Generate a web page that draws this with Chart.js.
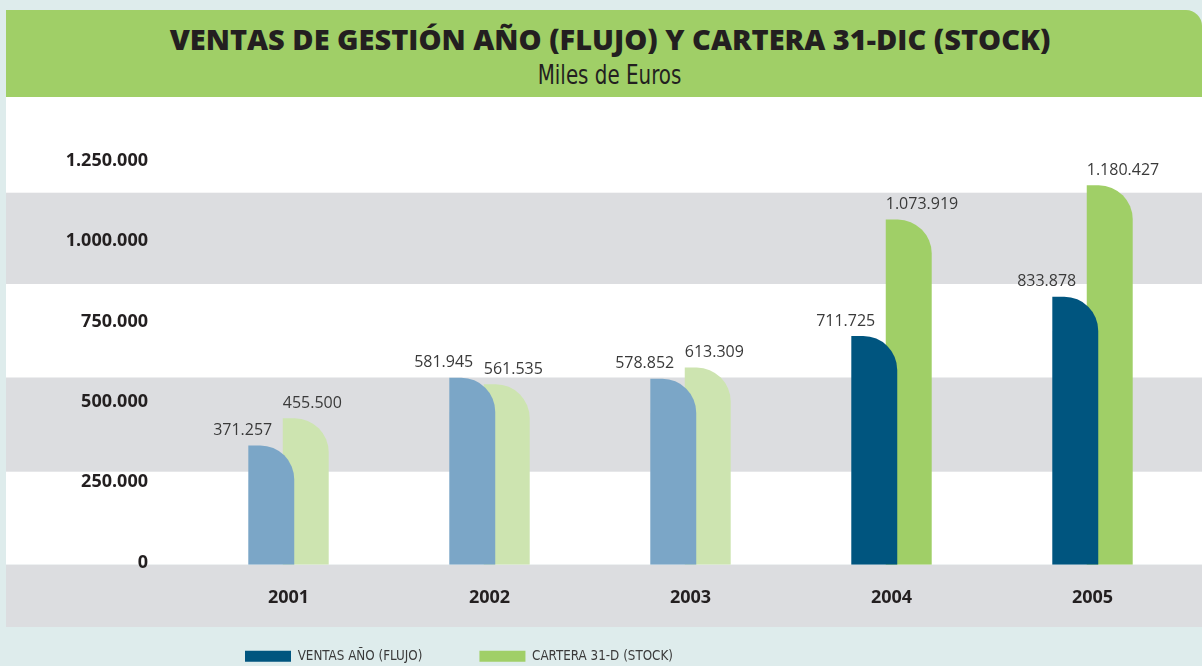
<!DOCTYPE html>
<html lang="es">

<head>
    <meta charset="UTF-8">
    <title>Ventas de gestión y cartera</title>
    <script src="https://cdn.jsdelivr.net/npm/chart.js"></script>
    <style>
        body {
            margin: 0;
            width: 1202px;
            height: 666px;
            overflow: hidden;
            position: relative;
            background: #deecec;
        }

        .titulo {
            position: absolute;
            left: 6px;
            top: 10px;
            width: 1196px;
            height: 87px;
            background: #a0cf67;
            border-top-right-radius: 16px;
            color: #231f20;
        }

        .titulo h1 {
            position: absolute;
            left: 12px;
            right: 0;
            top: 14px;
            margin: 0;
            text-align: center;
            font: 800 29px/29px 'Open Sans', sans-serif;
        }

        .titulo p {
            position: absolute;
            left: 12px;
            right: 0;
            top: 52px;
            margin: 0;
            text-align: center;
            font: 26px/26px 'DejaVu Sans Condensed', 'DejaVu Sans', sans-serif;
        }

        .titulo p span {
            display: inline-block;
            transform: scaleX(0.85);
        }

        .grafico {
            position: absolute;
            left: 6px;
            top: 97px;
            width: 1196px;
            height: 576px;
        }
    </style>
</head>

<body>
    <div class="titulo">
        <h1>VENTAS DE GESTIÓN AÑO (FLUJO) Y CARTERA 31-DIC (STOCK)</h1>
        <p><span>Miles de Euros</span></p>
    </div>
    <div class="grafico">
        <canvas id="myChart"></canvas>
    </div>

    <script>
        // datos (miles de euros)
        const anios = ['2001', '2002', '2003', '2004', '2005'];
        const ventasFlujo = [371257, 581945, 578852, 711725, 833878];
        const carteraStock = [455500, 561535, 613309, 1073919, 1180427];
        const ticksEje = [0, 250000, 500000, 750000, 1000000, 1250000];
        // los ultimos años van en color fuerte
        const resaltado = [false, false, false, true, true];

        const colVentas = ['#7ba6c7', '#00557f'];
        const colCartera = ['#cde4b0', '#a0cf67'];

        const franjas = [[95.7, 187], [280.5, 374.7]];
        const finPanel = 530;
        const radioEsquina = 34;
        const letraCondensada = "'DejaVu Sans Condensed', 'DejaVu Sans', sans-serif";

        function puntos(v) {
            return String(v).replace(/\B(?=(\d{3})+(?!\d))/g, '.');
        }

        function colorBarra(c, colores) {
            if (c.dataIndex >= 0 && !resaltado[c.dataIndex]) {
                return colores[0];
            }
            return colores[1];
        }

        // barra con la esquina de arriba a la derecha redondeada
        const Barra = Chart.registry.getElement('bar');
        Barra.prototype.draw = function (ctx) {
            const { x, y, base, width } = this.getProps(['x', 'y', 'base', 'width']);
            const izq = x - width / 2;
            const der = x + width / 2;
            const r = Math.min(radioEsquina, width, base - y);
            ctx.save();
            ctx.fillStyle = this.options.backgroundColor;
            ctx.beginPath();
            ctx.moveTo(izq, base);
            ctx.lineTo(izq, y);
            ctx.lineTo(der - r, y);
            ctx.arcTo(der, y, der, y + r, r);
            ctx.lineTo(der, base);
            ctx.closePath();
            ctx.fill();
            ctx.restore();
        };

        const fondo = {
            id: 'fondo',
            beforeDraw(chart) {
                const { ctx, width, height, chartArea } = chart;
                ctx.save();
                ctx.fillStyle = '#ffffff';
                ctx.fillRect(0, 0, width, chartArea.bottom);
                ctx.fillStyle = '#dcdde0';
                franjas.forEach(f => ctx.fillRect(0, f[0], width, f[1] - f[0]));
                ctx.fillRect(0, chartArea.bottom, width, finPanel - chartArea.bottom);
                ctx.fillStyle = '#deecec';
                ctx.fillRect(0, finPanel, width, height - finPanel);
                ctx.restore();
            }
        };

        const etiquetasValor = {
            id: 'etiquetasValor',
            afterDatasetsDraw(chart) {
                const ctx = chart.ctx;
                ctx.save();
                ctx.font = "16px 'Open Sans'";
                ctx.fillStyle = '#3a3a3a';
                ctx.textBaseline = 'middle';
                chart.data.datasets.forEach((ds, i) => {
                    chart.getDatasetMeta(i).data.forEach((barra, j) => {
                        const texto = puntos(ds.data[j]);
                        if (i === 0) {
                            ctx.textAlign = 'right';
                            ctx.fillText(texto, barra.x + 1, barra.y - 15);
                        } else {
                            ctx.textAlign = 'left';
                            ctx.fillText(texto, barra.x - barra.width / 2, barra.y - 15);
                        }
                    });
                });
                ctx.restore();
            }
        };

        const ctx = document.getElementById('myChart');

        const myChart = new Chart(ctx, {
            type: 'bar',
            data: {
                labels: anios,
                datasets: [{
                    label: 'VENTAS AÑO (FLUJO)',
                    data: ventasFlujo,
                    backgroundColor: c => colorBarra(c, colVentas)
                }, {
                    label: 'CARTERA 31-D (STOCK)',
                    data: carteraStock,
                    backgroundColor: c => colorBarra(c, colCartera)
                }]
            },
            options: {
                responsive: true,
                maintainAspectRatio: false,
                animation: false,
                layout: {
                    padding: { top: 66, right: 9, bottom: 0, left: 0 }
                },
                datasets: {
                    bar: {
                        categoryPercentage: 0.343,
                        barPercentage: 1.333
                    }
                },
                scales: {
                    x: {
                        grid: { display: false, drawTicks: false },
                        border: { display: false },
                        ticks: {
                            color: '#231f20',
                            // mirror para que el texto no quede recortado por la altura del eje
                            mirror: true,
                            padding: -44,
                            font: { family: "'Open Sans'", size: 18, weight: 'bold' }
                        },
                        afterFit: s => { s.height = 28; }
                    },
                    y: {
                        min: 0,
                        max: 1250000,
                        grid: { display: false, drawTicks: false },
                        border: { display: false },
                        ticks: {
                            color: '#231f20',
                            padding: 40,
                            labelOffset: -2,
                            font: { family: "'Open Sans'", size: 18, weight: 'bold' },
                            callback: v => puntos(v)
                        },
                        afterBuildTicks: s => { s.ticks = ticksEje.map(v => ({ value: v })); },
                        afterFit: s => { s.width = 182; }
                    }
                },
                plugins: {
                    legend: {
                        position: 'bottom',
                        align: 'start',
                        fullSize: false,
                        labels: {
                            boxWidth: 46,
                            boxHeight: 11,
                            padding: 57,
                            color: '#3a3a3a',
                            font: { family: letraCondensada, size: 13.3 },
                            generateLabels: chart => {
                                const items = Chart.defaults.plugins.legend.labels.generateLabels(chart);
                                const fuertes = [colVentas[1], colCartera[1]];
                                items.forEach((it, i) => {
                                    it.fillStyle = fuertes[i];
                                    it.strokeStyle = fuertes[i];
                                    it.lineWidth = 0;
                                });
                                return items;
                            }
                        }
                    },
                    tooltip: { enabled: false }
                }
            },
            plugins: [fondo, etiquetasValor]
        });
    </script>
</body>

</html>
